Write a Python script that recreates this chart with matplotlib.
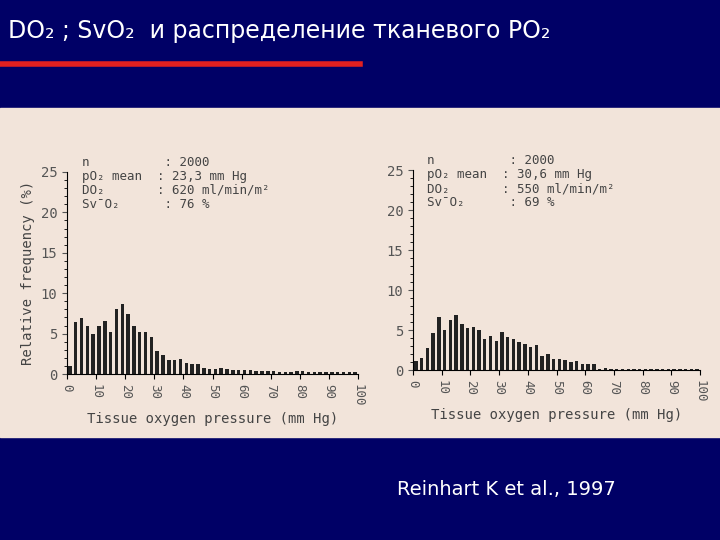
import numpy as np
import matplotlib.pyplot as plt

# relative frequency (%) per 2 mmHg bin, 0..100 mmHg
left_freq = [1.0, 6.4, 6.9, 5.9, 5.0, 5.9, 6.5, 5.2, 8.0, 8.7,
             7.4, 6.0, 5.2, 5.2, 4.6, 2.9, 2.4, 1.7, 1.7, 1.8,
             1.4, 1.2, 1.2, 0.7, 0.6, 0.6, 0.7, 0.6, 0.5, 0.5,
             0.5, 0.5, 0.4, 0.4, 0.4, 0.4, 0.3, 0.3, 0.3, 0.4,
             0.4, 0.3, 0.3, 0.3, 0.3, 0.3, 0.3, 0.3, 0.3, 0.3]
right_freq = [1.1, 1.5, 2.7, 4.6, 6.6, 5.0, 6.3, 6.9, 5.7, 5.2,
              5.4, 5.0, 3.9, 4.3, 3.6, 4.7, 4.1, 3.9, 3.5, 3.2,
              2.9, 3.1, 1.7, 2.0, 1.4, 1.4, 1.3, 1.0, 1.1, 0.7,
              0.7, 0.8, 0.1, 0.2, 0.1, 0.1, 0.1, 0.1, 0.1, 0.1,
              0.1, 0.1, 0.1, 0.1, 0.1, 0.1, 0.1, 0.1, 0.1, 0.1]
left_info = ["n          : 2000", "pO\u2082 mean  : 23,3 mm Hg",
             "DO\u2082       : 620 ml/min/m\u00b2", "Sv\u0304O\u2082      : 76 %"]
right_info = ["n          : 2000", "pO\u2082 mean  : 30,6 mm Hg",
              "DO\u2082       : 550 ml/min/m\u00b2", "Sv\u0304O\u2082      : 69 %"]
bins = np.arange(1, 101, 2)

fig = plt.figure(figsize=(7.2, 5.4), dpi=100)
fig.patch.set_facecolor('#000066')
W, H = 720, 540

fig.text(8 / W, 1 - 38 / H, "DO\u2082 ; SvO\u2082  и распределение тканевого PO\u2082",
         color='white', fontsize=17, family='DejaVu Sans')
fig.add_artist(plt.Line2D([0, 360 / W], [1 - 64 / H] * 2, color='#e02020', lw=4))
fig.add_artist(plt.Rectangle((0, 1 - 437 / H), 1, 329 / H, color='#f2e4da', zorder=-5))
fig.text(397 / W, 1 - 495 / H, "Reinhart K et al., 1997", color='white', fontsize=14)

def panel(x0, x1, y0, y25, freq, info, ylabel):
    ax = fig.add_axes([x0 / W, 1 - y0 / H, (x1 - x0) / W, (y0 - y25) / H])
    ax.set_zorder(2)
    ax.set_facecolor('none')
    ax.bar(bins, freq, width=1.2, color='#222222')
    ax.set_xlim(0, 100)
    ax.set_ylim(0, 25)
    ax.set_xticks(range(0, 101, 10))
    ax.set_xticklabels(range(0, 101, 10), rotation=-90, family='DejaVu Sans Mono',
                       fontsize=9, color='#555555')
    ax.set_yticks(range(0, 26, 5))
    ax.set_yticks(range(0, 26, 1), minor=True)
    ax.tick_params(axis='y', labelsize=10, colors='#555555')
    for lab in ax.get_yticklabels():
        lab.set_family('DejaVu Sans Mono')
    for s in ['top', 'right']:
        ax.spines[s].set_visible(False)
    ax.set_xlabel("Tissue oxygen pressure (mm Hg)", family='DejaVu Sans Mono',
                  fontsize=10, color='#444444')
    if ylabel:
        ax.set_ylabel("Relative frequency (%)", family='DejaVu Sans Mono',
                      fontsize=10, color='#444444')
    ax.text(0.05, 1.08, "\n".join(info), transform=ax.transAxes, va='top',
            family='DejaVu Sans Mono', fontsize=9, color='#444444', linespacing=1.1)

panel(67, 358, 374, 172, left_freq, left_info, True)
panel(413, 700, 370, 170, right_freq, right_info, False)

fig.savefig('out.png', dpi=100, facecolor=fig.get_facecolor())
